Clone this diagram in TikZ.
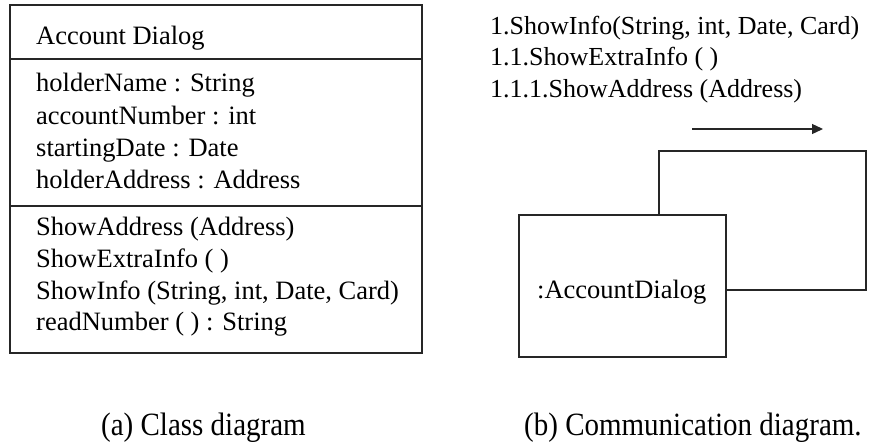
\documentclass[tikz,border=0pt]{standalone}
\usepackage{fontspec}
\setmainfont{Liberation Serif}
\usetikzlibrary{arrows.meta}
\tikzset{
  line/.style={draw=black!85, line width=1.3pt},
  txt/.style={anchor=base west, inner sep=0pt, font=\fontsize{26.5}{31}\selectfont},
  msgtxt/.style={anchor=base west, inner sep=0pt, font=\fontsize{26}{31}\selectfont},
  captxt/.style={anchor=base west, inner sep=0pt, font=\fontsize{29}{34}\selectfont},
  box/.style={line, rectangle, inner sep=0pt},
}
\begin{document}
\begin{tikzpicture}[x=1pt,y=-1pt]
\useasboundingbox[fill=white] (0,0) rectangle (870,444);
% class diagram
\node[box, minimum width=412pt, minimum height=348pt] (cls) at (216,179) {};
\coordinate (d1) at (0,59);
\coordinate (d2) at (0,206);
\draw[line] (cls.west |- d1) -- (cls.east |- d1);
\draw[line] (cls.west |- d2) -- (cls.east |- d2);
\node[txt] (cname) at (36,45) {Account Dialog};
\node[txt] (at1) at (36,92) {holderName : String};
\node[txt] (at2) at (36,124) {accountNumber : int};
\node[txt] (at3) at (36,156) {startingDate : Date};
\node[txt] (at4) at (36,188) {holderAddress : Address};
\node[txt] (m1) at (36,235) {ShowAddress (Address)};
\node[txt] (m2) at (36,267) {ShowExtraInfo ( )};
\node[txt] (m3) at (36,299) {ShowInfo (String, int, Date, Card)};
\node[txt] (m4) at (36,330) {readNumber ( ) : String};
% communication diagram
\node[msgtxt] (msg1) at (490,35) {1.ShowInfo(String, int, Date, Card)};
\node[msgtxt] (msg2) at (490,66) {1.1.ShowExtraInfo ( )};
\node[msgtxt] (msg3) at (490,97) {1.1.1.ShowAddress (Address)};
\coordinate (as) at (692,129);
\coordinate (ae) at (823,129);
\draw[line, -{Triangle[length=11pt,width=10pt]}] (as) -- (ae);
\node[box, minimum width=207pt, minimum height=142pt] (obj) at (622.5,286) {};
\node[txt] (objname) at (537,298) {:AccountDialog};
\coordinate (lx) at (659,0);
\coordinate (lc) at (866,151);
\draw[line] (obj.north -| lx) |- (lc) |- ([yshift=-4pt]obj.east);
% captions
\node[captxt] (capa) at (101,435) {\scalebox{1}[1.12]{(a) Class diagram}};
\node[captxt] (capb) at (524,435) {\scalebox{1}[1.12]{(b) Communication diagram.}};
\end{tikzpicture}
\end{document}
